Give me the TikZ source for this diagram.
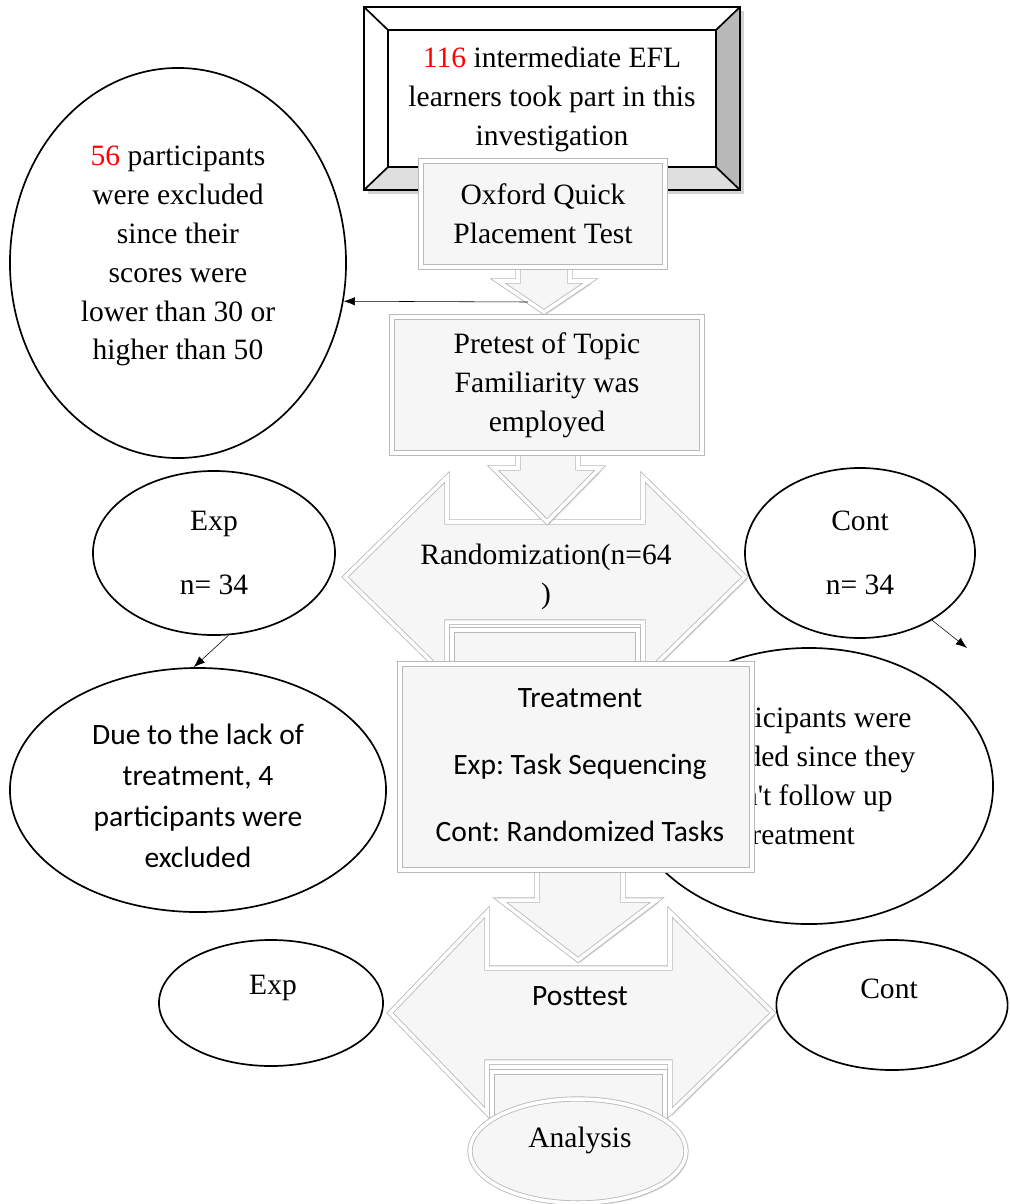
\documentclass[tikz,border=0pt]{standalone}
\usepackage{fontspec}
\setmainfont{Liberation Serif}
\newfontfamily\calfont{Carlito}
\usetikzlibrary{shapes.geometric,arrows.meta,shadows}
\frenchspacing

\tikzset{
  serif/.style={font=\fontsize{21}{27.7}\selectfont, align=center},
  serifwide/.style={font=\fontsize{21}{46}\selectfont, align=center},
  sans/.style={font=\calfont\fontsize{21}{29}\selectfont, align=center},
  oval/.style={ellipse, draw, line width=1.2pt, fill=white, inner sep=0pt},
  flow/.style={fill=gray!7, draw=gray!55, line width=0.6pt, double=white, double distance=2.5pt,
    drop shadow={opacity=.3, shadow xshift=1.5pt, shadow yshift=-2pt}},
  link/.style={-{Latex[length=8pt,width=6pt]}, thin},
}

\begin{document}
\begin{tikzpicture}[x=0.025cm, y=-0.025cm]
\useasboundingbox (0,0) rectangle (1010,1204);

% excluded after the placement test
\node[oval, minimum width=8.4cm, minimum height=9.75cm] (excl) at (178,263) {};
\node[serif] (excltext) at (178,256)
  {\textcolor{red}{56} participants\\were excluded\\since their\\scores were\\lower than 30 or\\higher than 50};

% top box with bevel
\draw[line width=1.2pt, fill=white, drop shadow={opacity=.35, shadow xshift=3pt, shadow yshift=-3pt}] (364,7) rectangle (740,190);
\fill[gray!55] (740,7) -- (716,30) -- (716,167) -- (740,190) -- cycle;
\fill[gray!25] (364,190) -- (388,167) -- (716,167) -- (740,190) -- cycle;
\draw[line width=1.2pt] (364,7) rectangle (740,190) (388,30) rectangle (716,167);
\draw[line width=1.2pt] (364,7) -- (388,30) (740,7) -- (716,30) (364,190) -- (388,167) (740,190) -- (716,167);
\node[serif] (learners) at (552,99) {\textcolor{red}{116} intermediate EFL\\learners took part in this\\investigation};

% placement test
\draw[flow] (518,255) -- (570,255) -- (570,281) -- (590,281) -- (544,312) -- (498,281) -- (518,281) -- cycle;
\node[flow, serif, minimum width=6.1cm, minimum height=2.65cm] (oqpt) at (543,214) {Oxford Quick\\Placement Test};
\coordinate (qptout) at (528,302);
\draw[link] (qptout) -- (excl.-13);

% randomization
\draw[flow] (345,577) -- (447,477) -- (447,522) -- (643,522) -- (643,477) -- (745,577)
  -- (643,677) -- (643,622) -- (447,622) -- (447,677) -- cycle;
\draw[flow] (452,630) rectangle (638,700);
\node[serif] (random) at (546,577) {Randomization(n=64\\)};

% pretest
\draw[flow] (518,445) -- (578,445) -- (578,468) -- (600,468) -- (547,522) -- (493,468) -- (518,468) -- cycle;
\node[flow, serif, minimum width=7.75cm, minimum height=3.4cm] (pretest) at (547,385)
  {Pretest of Topic\\Familiarity was\\employed};

% groups after randomization
\node[oval, serifwide, minimum width=6.05cm, minimum height=4.1cm] (exp1) at (214,553) {Exp\\n= 34};
\node[oval, serifwide, minimum width=5.75cm, minimum height=4.25cm] (cont1) at (860,553) {Cont\\n= 34};
\node[oval, minimum width=9.4cm, minimum height=6.1cm] (dropexp) at (198,790) {};
\node[sans] (dropexptext) at (198,796) {Due to the lack of\\treatment, 4\\participants were\\excluded};
\node[oval, minimum width=9.2cm, minimum height=6.9cm] (dropcont) at (809,786) {};
\node[serif] (dropconttext) at (799,776)
  {4 participants were\\excluded since they\\didn\textquotesingle t follow up\\treatment};
\draw[link] (exp1.-80) -- (dropexp.92);
\coordinate (contend) at (967,648);
\draw[link] (cont1.-43) -- (contend);

% posttest
\draw[flow] (390,1013) -- (487,912) -- (487,968) -- (670,968) -- (670,912) -- (773,1013)
  -- (670,1113) -- (670,1062) -- (487,1062) -- (487,1113) -- cycle;
\draw[flow] (492,1072) rectangle (665,1120);
\draw[flow] (537,860) -- (623,860) -- (623,900) -- (657,900) -- (578,960) -- (500,900) -- (537,900) -- cycle;
\node[sans] (post) at (580,996) {Posttest};

% treatment
\node[flow, minimum width=8.8cm, minimum height=5.15cm] (treat) at (576,767) {};
\node[font=\calfont\fontsize{21}{47.7}\selectfont, align=center] (treattext) at (580,765)
  {Treatment\\Exp: Task Sequencing\\Cont: Randomized Tasks};

% groups at posttest
\node[oval, minimum width=5.6cm, minimum height=3.15cm] (exp2) at (271,1003) {};
\node[serif] (exp2text) at (273,988) {Exp};
\node[oval, minimum width=5.78cm, minimum height=3.25cm] (cont2) at (892,1005) {};
\node[serif] (cont2text) at (889,989) {Cont};

% analysis
\node[flow, ellipse, minimum width=5.4cm, minimum height=2.6cm] (analysis) at (578,1151) {};
\node[serif] (analysistext) at (580,1140) {Analysis};
\end{tikzpicture}
\end{document}
